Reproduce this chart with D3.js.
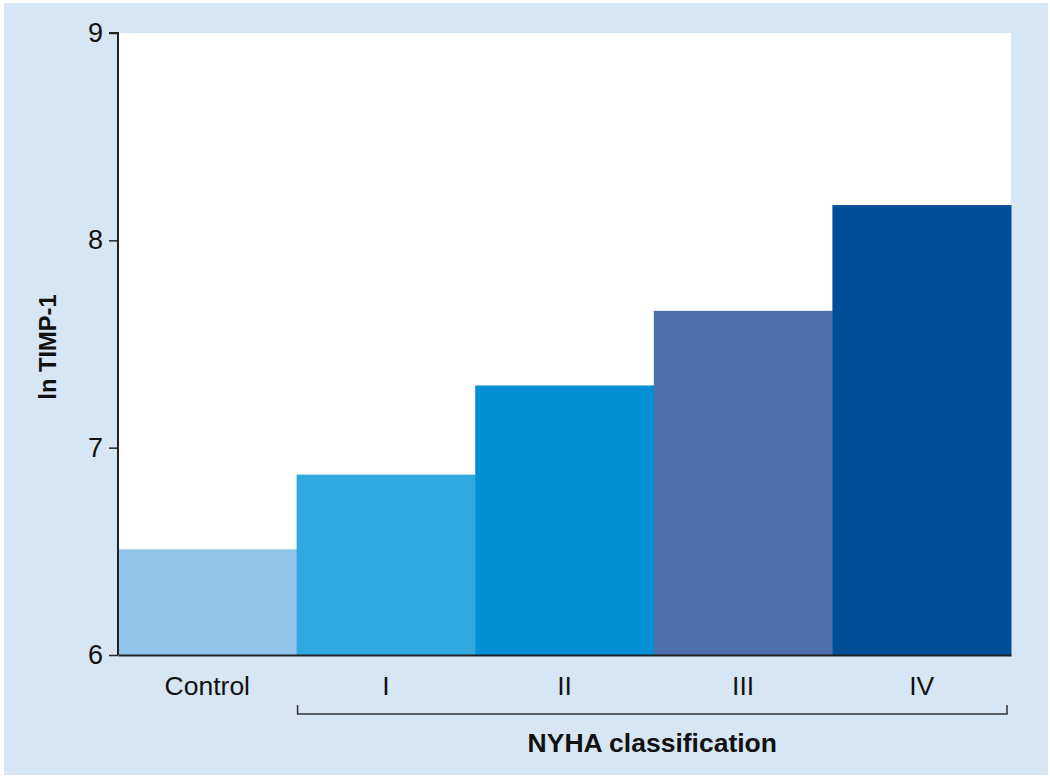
<!DOCTYPE html>
<html><head><meta charset="utf-8">
<script src="https://cdn.jsdelivr.net/npm/d3@7"></script>
<style>body{margin:0;background:#fff;}svg{display:block;}</style>
</head><body>
<svg id="chart" width="1050" height="779"></svg>
<script>
const categories = ["Control", "I", "II", "III", "IV"];
const values = [6.51, 6.87, 7.30, 7.66, 8.17];
const colors = ["#93c5ea", "#2ea8de", "#038fd6", "#4f70ad", "#004e98"];
const yTicks = [6, 7, 8, 9];
const yLabel = "ln TIMP-1";
const groupLabel = "NYHA classification";

const svg = d3.select("#chart");
const m = {left: 118, top: 33, right: 1011, bottom: 655};
const font = "Helvetica, Arial, 'Liberation Sans', sans-serif";

svg.append("rect").attr("x", 4).attr("y", 3).attr("width", 1044).attr("height", 772).attr("fill", "#d6e6f5");
svg.append("rect").attr("x", m.left).attr("y", m.top).attr("width", m.right - m.left).attr("height", m.bottom - m.top).attr("fill", "#fff");

const x = d3.scaleBand().domain(categories).range([m.left, m.right]).padding(0);
const y = d3.scaleLinear().domain([6, 9]).range([m.bottom, m.top]);

svg.selectAll("rect.bar").data(categories).enter().append("rect")
  .attr("class", "bar")
  .attr("x", d => x(d)).attr("width", x.bandwidth() + 0.5)
  .attr("y", (d, i) => y(values[i])).attr("height", (d, i) => y(6) - y(values[i]))
  .attr("fill", (d, i) => colors[i]);

const yAxis = svg.append("g").attr("transform", `translate(${m.left},0)`)
  .call(d3.axisLeft(y).tickValues(yTicks).tickSize(9).tickPadding(6).tickFormat(d3.format("d")));
yAxis.select(".domain").attr("d", `M-9,${m.top}H0V${m.bottom}`).attr("stroke", "#222").attr("stroke-width", 2);
yAxis.selectAll(".tick line").attr("stroke", "#222").attr("stroke-width", 1.5);
yAxis.selectAll(".tick text").attr("font-family", font).attr("font-size", 27).attr("fill", "#111");

const xAxis = svg.append("g").attr("transform", `translate(0,${m.bottom})`)
  .call(d3.axisBottom(x).tickSize(0).tickPadding(21));
xAxis.select(".domain").attr("stroke", "#222").attr("stroke-width", 2);
xAxis.selectAll(".tick text").attr("font-family", font).attr("font-size", 26.5).attr("fill", "#111");

// bracket for NYHA
const bx0 = x("I") + 1, bx1 = x("IV") + x.bandwidth() - 4, by = 714;
svg.append("path").attr("d", `M${bx0},${by - 9}V${by}H${bx1}V${by - 9}`)
  .attr("fill", "none").attr("stroke", "#333").attr("stroke-width", 1.5);
svg.append("text").attr("x", (bx0 + bx1) / 2).attr("y", 752).attr("text-anchor", "middle")
  .attr("font-family", font).attr("font-size", 26.5).attr("font-weight", "bold").attr("fill", "#111").text(groupLabel);

svg.append("text").attr("transform", `translate(56,347) rotate(-90)`)
  .attr("text-anchor", "middle").attr("font-family", font).attr("font-size", 23.7).attr("font-weight", "bold")
  .attr("fill", "#111").text(yLabel);
</script>
</body></html>
